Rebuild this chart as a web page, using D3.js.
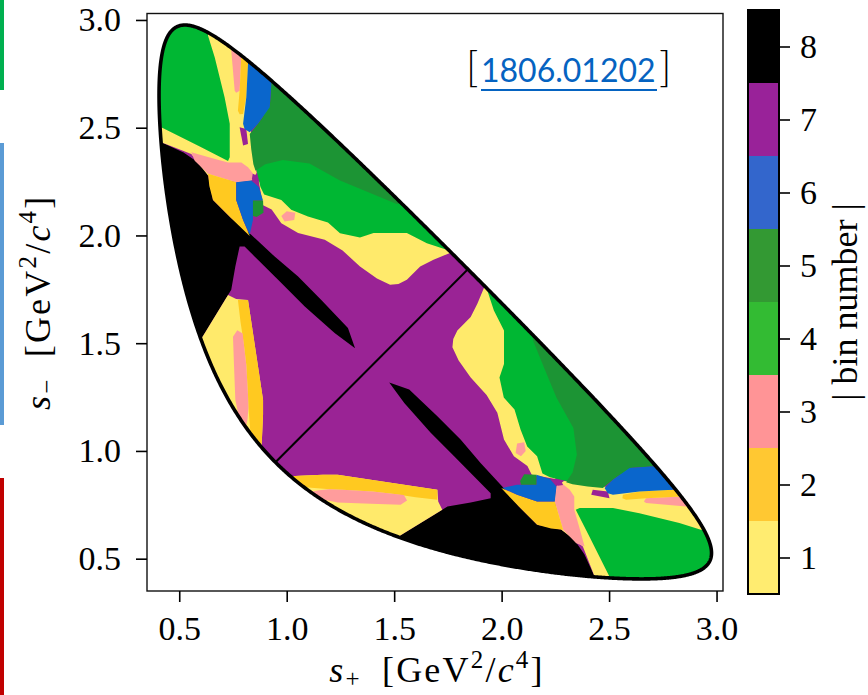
<!DOCTYPE html>
<html>
<head>
<meta charset="utf-8">
<script src="https://cdn.jsdelivr.net/npm/d3@7/dist/d3.min.js"></script>
<style>
  body { margin: 0; background: #fff; }
  svg { display: block; }
  .tick text { font-family: "Liberation Serif", "Times New Roman", serif; }
</style>
</head>
<body>
<svg id="chart" width="868" height="695"></svg>
<script>
// D0 -> KS pi+ pi- Dalitz plane split into |bin number| regions.
// Masses in GeV/c^2 give the kinematic boundary of the plane.
const MD = 1.86484, MKS = 0.497611, MPI = 0.13957;

const xTicks = [0.5, 1.0, 1.5, 2.0, 2.5, 3.0];
const yTicks = [0.5, 1.0, 1.5, 2.0, 2.5, 3.0];
const binNumbers = [1, 2, 3, 4, 5, 6, 7, 8];
const binColors = ["#ffea6b", "#ffc920", "#ff9c9c", "#00b733", "#1c9434", "#0a66cc", "#9a2395", "#000000"];
const barColors = ["#ffec70", "#ffc832", "#ff9496", "#33bb33", "#339933", "#3366cc", "#992299", "#000000"];

// Regions of the s- > s+ half, vertices as [s+, s-] in GeV^2/c^4.
// The s+ > s- half is the mirror image (s+ <-> s-). Painted in list order.
const purpleBase = [[0.2, 0.2], [0.2, 3.2], [3.2, 3.2]];
const blackEdge = [[0.30, 2.50], [0.416, 2.433], [0.52, 2.385], [0.60, 2.33], [0.634, 2.278], [0.657, 2.165],
  [0.742, 2.080], [0.835, 2.003], [0.944, 1.902], [1.053, 1.809], [1.161, 1.701], [1.285, 1.570],
  [1.318, 1.477], [1.223, 1.547], [1.084, 1.670], [0.975, 1.779], [0.866, 1.887], [0.804, 1.949],
  [0.781, 1.949], [0.761, 1.856], [0.742, 1.748], [0.727, 1.724], [0.59, 1.50], [0.50, 1.40], [0.30, 1.60]];
const yellowLow = [[0.50, 1.40], [0.59, 1.50], [0.727, 1.724], [0.765, 1.705], [0.820, 1.701], [0.890, 1.237],
  [0.890, 1.168], [0.885, 1.06], [0.88, 0.98], [0.65, 1.0]];
const orangeLow = [[0.773, 1.701], [0.820, 1.701], [0.890, 1.237], [0.890, 1.168], [0.885, 1.06], [0.88, 0.98],
  [0.83, 1.0], [0.830, 1.10], [0.822, 1.20], [0.820, 1.26], [0.812, 1.40], [0.800, 1.50], [0.785, 1.60]];
const pinkLow = [[0.750, 1.53], [0.770, 1.56], [0.795, 1.545], [0.812, 1.40], [0.820, 1.26], [0.822, 1.20],
  [0.818, 1.15], [0.80, 1.05], [0.76, 1.10], [0.775, 1.17], [0.761, 1.237], [0.755, 1.392]];
const yellowUpper = [[0.55, 3.1], [0.82, 3.1], [0.82, 2.80], [0.83, 2.50], [0.85, 2.40], [0.86, 2.29],
  [0.835, 2.255], [0.765, 2.247], [0.634, 2.278], [0.556, 2.378], [0.416, 2.433], [0.30, 2.45], [0.30, 2.60]];
const greenCorner = [[0.30, 2.56], [0.416, 2.502], [0.50, 2.46], [0.60, 2.41], [0.727, 2.345], [0.735, 2.363],
  [0.735, 2.518], [0.711, 2.641], [0.665, 2.827], [0.634, 2.927], [0.62, 3.1], [0.30, 3.1]];
const pinkStrip = [[0.735, 3.1], [0.742, 2.858], [0.758, 2.672], [0.765, 2.662], [0.781, 2.672], [0.789, 2.834], [0.795, 3.1]];
const orangeStrip = [[0.789, 3.1], [0.789, 2.834], [0.781, 2.672], [0.773, 2.579], [0.781, 2.562], [0.797, 2.564],
  [0.812, 2.641], [0.820, 2.796], [0.822, 3.1]];
const purpleDotA = [[0.781, 2.502], [0.812, 2.494], [0.820, 2.424], [0.797, 2.417]];
const pinkBand = [[0.556, 2.386], [0.65, 2.36], [0.727, 2.338], [0.789, 2.338], [0.820, 2.317], [0.851, 2.278],
  [0.835, 2.255], [0.765, 2.247], [0.634, 2.286], [0.572, 2.347]];
const orangeBand = [[0.634, 2.286], [0.765, 2.247], [0.765, 2.165], [0.797, 2.072], [0.828, 1.998], [0.742, 2.080],
  [0.657, 2.165], [0.640, 2.23]];
const yellowMid = [[0.87, 2.25], [0.89, 2.14], [0.93, 2.12], [0.975, 2.057], [1.053, 2.011], [1.177, 1.980],
  [1.26, 1.93], [1.341, 1.856], [1.42, 1.80], [1.481, 1.771], [1.52, 1.775], [1.559, 1.794], [1.621, 1.856],
  [1.683, 1.887], [1.76, 1.919], [1.80, 1.98], [1.80, 2.25]];
const pinkDot = [[0.975, 2.09], [1.0, 2.112], [1.04, 2.105], [1.035, 2.072], [0.99, 2.065]];
const blueTip = [[0.765, 2.247], [0.835, 2.255], [0.870, 2.225], [0.890, 2.162], [0.843, 2.162], [0.843, 2.072],
  [0.828, 2.003], [0.797, 2.072], [0.765, 2.165]];
const darkGreenDot = [[0.843, 2.162], [0.890, 2.162], [0.892, 2.105], [0.86, 2.086], [0.843, 2.09]];
const purpleDotB = [[0.838, 2.262], [0.862, 2.255], [0.866, 2.275], [0.842, 2.286]];
const greenMid = [[0.86, 2.40], [0.86, 2.30], [0.878, 2.225], [0.895, 2.19], [0.975, 2.165], [1.021, 2.119],
  [1.099, 2.088], [1.192, 2.06], [1.248, 2.01], [1.341, 1.99], [1.404, 2.011], [1.559, 2.011], [1.652, 1.964],
  [1.755, 1.93], [1.85, 2.0], [1.85, 2.6], [0.9, 2.6]];
const darkGreenTop = [[0.93, 3.1], [0.928, 2.695], [0.921, 2.595], [0.866, 2.518], [0.828, 2.471], [0.835, 2.40],
  [0.845, 2.33], [0.855, 2.30], [0.90, 2.33], [0.982, 2.350], [1.106, 2.334], [1.248, 2.255], [1.38, 2.20],
  [1.512, 2.146], [1.62, 2.16], [1.62, 3.1]];
const blueTop = [[0.82, 3.1], [0.820, 2.796], [0.812, 2.641], [0.797, 2.518], [0.804, 2.494], [0.828, 2.479],
  [0.866, 2.518], [0.921, 2.595], [0.928, 2.695], [0.935, 3.1]];

const regions = [
  { bin: 7, pts: purpleBase }, { bin: 8, pts: blackEdge },
  { bin: 1, pts: yellowLow }, { bin: 2, pts: orangeLow }, { bin: 3, pts: pinkLow },
  { bin: 1, pts: yellowUpper }, { bin: 4, pts: greenCorner }, { bin: 3, pts: pinkStrip },
  { bin: 2, pts: orangeStrip }, { bin: 7, pts: purpleDotA }, { bin: 3, pts: pinkBand },
  { bin: 2, pts: orangeBand }, { bin: 1, pts: yellowMid }, { bin: 3, pts: pinkDot },
  { bin: 6, pts: blueTip }, { bin: 5, pts: darkGreenDot }, { bin: 7, pts: purpleDotB },
  { bin: 4, pts: greenMid }, { bin: 5, pts: darkGreenTop }, { bin: 6, pts: blueTop }
];

// Kinematic limits of s- for a given s+.
function sMinusLimits(sp) {
  const m = Math.sqrt(sp);
  const eK = (sp - MPI * MPI + MKS * MKS) / (2 * m);
  const eP = (MD * MD - sp - MPI * MPI) / (2 * m);
  const pK = Math.sqrt(Math.max(eK * eK - MKS * MKS, 0));
  const pP = Math.sqrt(Math.max(eP * eP - MPI * MPI, 0));
  const e2 = (eK + eP) * (eK + eP);
  return [e2 - (pK + pP) * (pK + pP), e2 - (pK - pP) * (pK - pP)];
}
const sLo = (MKS + MPI) ** 2, sHi = (MD - MPI) ** 2;
const lowerEdge = [], upperEdge = [];
for (let i = 0; i <= 600; i++) {
  const s = sLo + (sHi - sLo) * (1 - Math.cos(Math.PI * i / 600)) / 2;
  const [lo, hi] = sMinusLimits(s);
  lowerEdge.push([s, lo]);
  upperEdge.push([s, hi]);
}
const boundary = lowerEdge.concat(upperEdge.slice().reverse());

const svg = d3.select("#chart");
const x = d3.scaleLinear().domain([0.35, 3.03]).range([147, 723]);
const y = d3.scaleLinear().domain([0.35, 3.03]).range([591, 13.5]);
const line = d3.line().x(d => x(d[0])).y(d => y(d[1]));
const mirrored = d3.line().x(d => x(d[1])).y(d => y(d[0]));

// slide edge markers
const edgeMarks = [{ y0: 0, y1: 90, c: "#00b050" }, { y0: 143, y1: 425, c: "#5b9bd5" }, { y0: 478, y1: 695, c: "#c00000" }];
svg.selectAll("rect.edge").data(edgeMarks).enter().append("rect")
  .attr("x", 0).attr("width", 4).attr("y", d => d.y0).attr("height", d => d.y1 - d.y0).attr("fill", d => d.c);

const defs = svg.append("defs");
defs.append("clipPath").attr("id", "dalitz").append("path").attr("d", line(boundary) + "Z");
defs.append("clipPath").attr("id", "upperHalf").append("path").attr("d", line([[0.2, 0.2], [0.2, 3.2], [3.2, 3.2]]) + "Z");
defs.append("clipPath").attr("id", "lowerHalf").append("path").attr("d", line([[0.2, 0.2], [3.2, 0.2], [3.2, 3.2]]) + "Z");

const plane = svg.append("g").attr("clip-path", "url(#dalitz)");
const upper = plane.append("g").attr("clip-path", "url(#upperHalf)");
const lower = plane.append("g").attr("clip-path", "url(#lowerHalf)");
upper.selectAll("path").data(regions).enter().append("path")
  .attr("d", d => line(d.pts) + "Z").attr("fill", d => binColors[d.bin - 1]);
lower.selectAll("path").data(regions).enter().append("path")
  .attr("d", d => mirrored(d.pts) + "Z").attr("fill", d => binColors[d.bin - 1]);

// s+ = s- diagonal
plane.append("path").attr("d", line([[0.8, 0.8], [2.0, 2.0]]))
  .attr("stroke", "#000").attr("stroke-width", 2).attr("fill", "none");

// phase-space boundary
svg.append("path").attr("d", line(boundary) + "Z")
  .attr("fill", "none").attr("stroke", "#000").attr("stroke-width", 3.6).attr("stroke-linejoin", "round");

// frame and axes
svg.append("rect").attr("x", x(0.35)).attr("y", y(3.03)).attr("width", x(3.03) - x(0.35)).attr("height", y(0.35) - y(3.03))
  .attr("fill", "none").attr("stroke", "#111").attr("stroke-width", 1.4);

const fmt = d3.format(".1f");
const xAxis = svg.append("g").attr("transform", `translate(0,${y(0.35)})`)
  .call(d3.axisBottom(x).tickValues(xTicks).tickFormat(fmt).tickSize(11).tickPadding(14));
const yAxis = svg.append("g").attr("transform", `translate(${x(0.35)},0)`)
  .call(d3.axisLeft(y).tickValues(yTicks).tickFormat(fmt).tickSize(11).tickPadding(15));
[xAxis, yAxis].forEach(a => {
  a.select(".domain").remove();
  a.selectAll(".tick line").attr("stroke", "#000").attr("stroke-width", 1.6);
  a.selectAll(".tick text").attr("font-size", 34).attr("fill", "#000");
});

function axisTitle(g, sub) {
  const t = g.append("text").attr("font-family", "Liberation Serif, serif").attr("font-size", 36)
    .attr("text-anchor", "middle").attr("fill", "#000").style("letter-spacing", "2.2px");
  t.append("tspan").attr("font-style", "italic").text("s");
  t.append("tspan").attr("font-size", 25).attr("dy", 5).text(sub);
  t.append("tspan").attr("dy", -5).text("\u2002[GeV");
  t.append("tspan").attr("font-size", 25).attr("dy", -14).text("2");
  t.append("tspan").attr("dy", 14).text("/");
  t.append("tspan").attr("font-style", "italic").text("c");
  t.append("tspan").attr("font-size", 25).attr("dy", -14).text("4");
  t.append("tspan").attr("dy", 14).text("]");
  return t;
}
axisTitle(svg.append("g").attr("transform", `translate(437,682)`), "+");
axisTitle(svg.append("g").attr("transform", `translate(50,${(y(0.35) + y(3.03)) / 2}) rotate(-90)`), "\u2212");

// colour bar
const cb = d3.scaleLinear().domain([0.5, 8.5]).range([594, 10]);
const cbx = 748, cbw = 31;
svg.selectAll("rect.bin").data(binNumbers).enter().append("rect")
  .attr("x", cbx).attr("width", cbw)
  .attr("y", d => cb(d + 0.5)).attr("height", d => cb(d - 0.5) - cb(d + 0.5))
  .attr("fill", d => barColors[d - 1]);
svg.append("rect").attr("x", cbx).attr("y", cb(8.5)).attr("width", cbw).attr("height", cb(0.5) - cb(8.5))
  .attr("fill", "none").attr("stroke", "#000").attr("stroke-width", 2);
const cAxis = svg.append("g").attr("transform", `translate(${cbx + cbw},0)`)
  .call(d3.axisRight(cb).tickValues(binNumbers).tickFormat(d3.format("d")).tickSize(11).tickPadding(10));
cAxis.select(".domain").remove();
cAxis.selectAll(".tick line").attr("stroke", "#000").attr("stroke-width", 1.6);
cAxis.selectAll(".tick text").attr("font-size", 34).attr("fill", "#000");

svg.append("text").attr("transform", `translate(857,${cb(4.5)}) rotate(-90)`)
  .attr("text-anchor", "middle").attr("font-family", "Liberation Serif, serif").attr("font-size", 36)
  .attr("fill", "#000").text("| bin number |");

// reference tag
const tag = svg.append("g").attr("font-family", "Lato, 'Open Sans', sans-serif");
tag.append("text").attr("x", 466).attr("y", 82).attr("font-size", 42).attr("font-weight", 300).attr("fill", "#000").text("[");
tag.append("text").attr("x", 659).attr("y", 82).attr("font-size", 42).attr("font-weight", 300).attr("fill", "#000").text("]");
tag.append("text").attr("x", 481).attr("y", 82).attr("font-size", 32).attr("fill", "#0563c1").text("1806.01202");
tag.append("line").attr("x1", 481).attr("x2", 657).attr("y1", 90).attr("y2", 90).attr("stroke", "#0563c1").attr("stroke-width", 2);
</script>
</body>
</html>
